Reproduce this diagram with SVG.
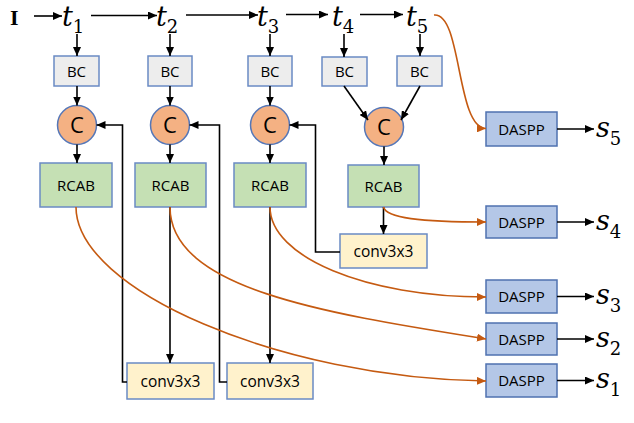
<svg xmlns="http://www.w3.org/2000/svg" width="634" height="423" viewBox="0 0 634 423">
<defs>
<marker id="ab" markerUnits="userSpaceOnUse" markerWidth="9" markerHeight="8" refX="9" refY="4" orient="auto"><path d="M0,0 L9,4 L0,8 z" fill="#000"/></marker>
<marker id="ao" markerUnits="userSpaceOnUse" markerWidth="9" markerHeight="8" refX="9" refY="4" orient="auto"><path d="M0,0 L9,4 L0,8 z" fill="#C55A11"/></marker>
<style>
.bc{fill:#EDEDED;stroke:#6A8AC4;stroke-width:1.5}
.cc{fill:#F4B183;stroke:#5577B8;stroke-width:1.5}
.rc{fill:#C5E0B4;stroke:#6A8AC4;stroke-width:1.5}
.cv{fill:#FFF2CC;stroke:#6A8AC4;stroke-width:1.5}
.da{fill:#B4C7E7;stroke:#4F72B0;stroke-width:1.5}
.lb{font-family:"Open Sans","Noto Sans",sans-serif;font-size:15px;fill:#000;text-anchor:middle}
.cl{font-family:"Open Sans","Noto Sans",sans-serif;font-size:22px;fill:#000;text-anchor:middle}
.mt{font-family:"DejaVu Serif","Liberation Serif",serif;font-style:italic;font-size:27px;fill:#000}
.sb{font-size:18px;font-style:normal}
.bl{fill:none;stroke:#000;stroke-width:1.6}
.or{fill:none;stroke:#C55A11;stroke-width:1.6}
</style>
</defs>
<rect width="634" height="423" fill="#fff"/>

<g id="labels">
<text x="10" y="25" style="font-family:'Liberation Serif',serif;font-weight:bold;font-size:22px" fill="#000">I</text>
<text class="mt" x="62" y="26">t<tspan class="sb" dy="7">1</tspan></text>
<text class="mt" x="156" y="26">t<tspan class="sb" dy="7">2</tspan></text>
<text class="mt" x="257" y="26">t<tspan class="sb" dy="7">3</tspan></text>
<text class="mt" x="332" y="26">t<tspan class="sb" dy="7">4</tspan></text>
<text class="mt" x="406" y="26">t<tspan class="sb" dy="7">5</tspan></text>
<text class="mt" x="596" y="137">s<tspan class="sb" dy="8">5</tspan></text>
<text class="mt" x="596" y="230">s<tspan class="sb" dy="8">4</tspan></text>
<text class="mt" x="596" y="304">s<tspan class="sb" dy="8">3</tspan></text>
<text class="mt" x="596" y="347">s<tspan class="sb" dy="8">2</tspan></text>
<text class="mt" x="596" y="388">s<tspan class="sb" dy="8">1</tspan></text>
</g>

<g id="bc1"><rect class="bc" x="54" y="56" width="45" height="30"/><text class="lb" x="76.5" y="76.5">BC</text></g>
<g id="bc2"><rect class="bc" x="148" y="56" width="44" height="30"/><text class="lb" x="170" y="76.5">BC</text></g>
<g id="bc3"><rect class="bc" x="248" y="56" width="44" height="30"/><text class="lb" x="270" y="76.5">BC</text></g>
<g id="bc4"><rect class="bc" x="322" y="57" width="45" height="29"/><text class="lb" x="344.5" y="76.5">BC</text></g>
<g id="bc5"><rect class="bc" x="397" y="56" width="45" height="30"/><text class="lb" x="419.5" y="76.5">BC</text></g>

<g id="c1"><circle class="cc" cx="77" cy="125" r="19.5"/><text class="cl" x="77" y="133">C</text></g>
<g id="c2"><circle class="cc" cx="170" cy="125" r="19.5"/><text class="cl" x="170" y="133">C</text></g>
<g id="c3"><circle class="cc" cx="270" cy="125" r="19.5"/><text class="cl" x="270" y="133">C</text></g>
<g id="c4"><circle class="cc" cx="384" cy="127" r="19.5"/><text class="cl" x="384" y="135">C</text></g>

<g id="rcab1"><rect class="rc" x="40" y="163" width="72" height="44"/><text class="lb" x="76" y="190.5">RCAB</text></g>
<g id="rcab2"><rect class="rc" x="135" y="163" width="71" height="44"/><text class="lb" x="170.5" y="190.5">RCAB</text></g>
<g id="rcab3"><rect class="rc" x="234" y="163" width="72" height="44"/><text class="lb" x="270" y="190.5">RCAB</text></g>
<g id="rcab4"><rect class="rc" x="348" y="165" width="71" height="42"/><text class="lb" x="383.5" y="191.5">RCAB</text></g>

<g id="conv1"><rect class="cv" x="127" y="363" width="87" height="36"/><text class="lb" x="170.5" y="386.5" style="font-size:15.5px">conv3x3</text></g>
<g id="conv2"><rect class="cv" x="227" y="363" width="86" height="36"/><text class="lb" x="270" y="386.5" style="font-size:15.5px">conv3x3</text></g>
<g id="conv3"><rect class="cv" x="340" y="234" width="87" height="34"/><text class="lb" x="383.5" y="256.5" style="font-size:15.5px">conv3x3</text></g>

<g id="daspp5"><rect class="da" x="486" y="112" width="71" height="34"/><text class="lb" x="521.5" y="134.5">DASPP</text></g>
<g id="daspp4"><rect class="da" x="486" y="206" width="71" height="32"/><text class="lb" x="521.5" y="227.5">DASPP</text></g>
<g id="daspp3"><rect class="da" x="486" y="280" width="71" height="33"/><text class="lb" x="521.5" y="301.5">DASPP</text></g>
<g id="daspp2"><rect class="da" x="486" y="323" width="71" height="32"/><text class="lb" x="521.5" y="344.5">DASPP</text></g>
<g id="daspp1"><rect class="da" x="486" y="364" width="71" height="33"/><text class="lb" x="521.5" y="385.5">DASPP</text></g>

<g id="connectors">
<path class="bl" marker-end="url(#ab)" d="M34,16 H62"/>
<path class="bl" marker-end="url(#ab)" d="M91,15.5 H157"/>
<path class="bl" marker-end="url(#ab)" d="M186,15 H258"/>
<path class="bl" marker-end="url(#ab)" d="M286,14.5 H328"/>
<path class="bl" marker-end="url(#ab)" d="M360,14.5 H403"/>

<path class="bl" marker-end="url(#ab)" d="M77,34 V56"/>
<path class="bl" marker-end="url(#ab)" d="M170,34 V56"/>
<path class="bl" marker-end="url(#ab)" d="M270,34 V56"/>
<path class="bl" marker-end="url(#ab)" d="M344,34 V57"/>
<path class="bl" marker-end="url(#ab)" d="M420,34 V56"/>

<path class="bl" marker-end="url(#ab)" d="M77,86 V105.5"/>
<path class="bl" marker-end="url(#ab)" d="M170,86 V105.5"/>
<path class="bl" marker-end="url(#ab)" d="M270,86 V105.5"/>
<path class="bl" marker-end="url(#ab)" d="M344,86 L368,120"/>
<path class="bl" marker-end="url(#ab)" d="M420,86 L401,120"/>

<path class="bl" marker-end="url(#ab)" d="M77,144.5 V163"/>
<path class="bl" marker-end="url(#ab)" d="M170,144.5 V163"/>
<path class="bl" marker-end="url(#ab)" d="M270,144.5 V163"/>
<path class="bl" marker-end="url(#ab)" d="M384,146.5 V165"/>

<path class="bl" marker-end="url(#ab)" d="M170,207 V363"/>
<path class="bl" marker-end="url(#ab)" d="M270,207 V363"/>
<path class="bl" marker-end="url(#ab)" d="M383.5,207 V234"/>

<path class="bl" marker-end="url(#ab)" d="M127,382 H122.5 V125 H96.5"/>
<path class="bl" marker-end="url(#ab)" d="M227,382 H219.5 V125 H189.5"/>
<path class="bl" marker-end="url(#ab)" d="M340,252 H315.5 V125 H289.5"/>

<path class="bl" marker-end="url(#ab)" d="M557,129 H594"/>
<path class="bl" marker-end="url(#ab)" d="M557,222 H594"/>
<path class="bl" marker-end="url(#ab)" d="M557,296.5 H594"/>
<path class="bl" marker-end="url(#ab)" d="M557,339 H594"/>
<path class="bl" marker-end="url(#ab)" d="M557,380.5 H594"/>

<path class="or" marker-end="url(#ao)" d="M434,15 C462,12 456,128 486,128.5"/>
<path class="or" marker-end="url(#ao)" d="M383.5,207 C386,218 420,222 486,222"/>
<path class="or" marker-end="url(#ao)" d="M270,207 C270,257 366,297 486,297"/>
<path class="or" marker-end="url(#ao)" d="M170,207 C170,290 330,314 486,339"/>
<path class="or" marker-end="url(#ao)" d="M76,207 C76,290 280,378 486,381"/>
</g>
</svg>
